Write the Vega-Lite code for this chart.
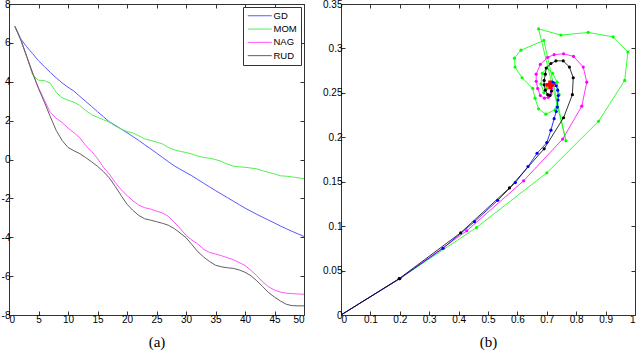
{
  "$schema": "https://vega.github.io/schema/vega-lite/v6.json",
  "padding": {"left": 0, "top": -2, "right": 0, "bottom": 0},
  "bounds": "flush",
  "spacing": 37,
  "config": {
    "font": "Liberation Sans",
    "view": {"stroke": "#333", "strokeWidth": 1},
    "axis": {"domain": false, "grid": false, "tickSize": -4, "tickColor": "#333", "labelFont": "Liberation Sans", "labelFontSize": 10, "labelColor": "#000", "labelPadding": 3, "titleFont": "Liberation Serif", "titleFontSize": 15, "titleFontWeight": "normal", "titleColor": "#000", "titlePadding": 10}
  },
  "resolve": {"scale": {"color": "independent"}},
  "datasets": {
    "curves": [
      {"method":"GD","iter":1,"value":6.85},{"method":"GD","iter":2,"value":6.2},{"method":"GD","iter":3,"value":5.8},{"method":"GD","iter":4,"value":5.45},{"method":"GD","iter":5,"value":5.08},{"method":"GD","iter":6,"value":4.78},{"method":"GD","iter":7,"value":4.48},{"method":"GD","iter":8,"value":4.2},{"method":"GD","iter":9,"value":3.94},{"method":"GD","iter":10,"value":3.72},
      {"method":"GD","iter":11,"value":3.52},{"method":"GD","iter":12,"value":3.25},{"method":"GD","iter":13,"value":2.99},{"method":"GD","iter":14,"value":2.73},{"method":"GD","iter":15,"value":2.46},{"method":"GD","iter":16,"value":2.2},{"method":"GD","iter":17,"value":1.94},{"method":"GD","iter":18,"value":1.76},{"method":"GD","iter":19,"value":1.57},{"method":"GD","iter":20,"value":1.38},
      {"method":"GD","iter":21,"value":1.18},{"method":"GD","iter":22,"value":0.98},{"method":"GD","iter":23,"value":0.76},{"method":"GD","iter":24,"value":0.55},{"method":"GD","iter":25,"value":0.33},{"method":"GD","iter":26,"value":0.11},{"method":"GD","iter":27,"value":-0.11},{"method":"GD","iter":28,"value":-0.32},{"method":"GD","iter":29,"value":-0.5},{"method":"GD","iter":30,"value":-0.67},
      {"method":"GD","iter":31,"value":-0.84},{"method":"GD","iter":32,"value":-1.03},{"method":"GD","iter":33,"value":-1.22},{"method":"GD","iter":34,"value":-1.41},{"method":"GD","iter":35,"value":-1.6},{"method":"GD","iter":36,"value":-1.78},{"method":"GD","iter":37,"value":-1.96},{"method":"GD","iter":38,"value":-2.14},{"method":"GD","iter":39,"value":-2.32},{"method":"GD","iter":40,"value":-2.5},
      {"method":"GD","iter":41,"value":-2.66},{"method":"GD","iter":42,"value":-2.82},{"method":"GD","iter":43,"value":-2.97},{"method":"GD","iter":44,"value":-3.12},{"method":"GD","iter":45,"value":-3.27},{"method":"GD","iter":46,"value":-3.42},{"method":"GD","iter":47,"value":-3.56},{"method":"GD","iter":48,"value":-3.7},{"method":"GD","iter":49,"value":-3.83},{"method":"GD","iter":50,"value":-3.96},
      {"method":"MOM","iter":1,"value":6.85},{"method":"MOM","iter":2,"value":6.2},{"method":"MOM","iter":3,"value":5.3},{"method":"MOM","iter":4,"value":4.35},{"method":"MOM","iter":5,"value":4.08},{"method":"MOM","iter":6,"value":4.06},{"method":"MOM","iter":7,"value":3.92},{"method":"MOM","iter":8,"value":3.45},{"method":"MOM","iter":9,"value":3.17},{"method":"MOM","iter":10,"value":3.05},
      {"method":"MOM","iter":11,"value":2.95},{"method":"MOM","iter":12,"value":2.78},{"method":"MOM","iter":13,"value":2.52},{"method":"MOM","iter":14,"value":2.3},{"method":"MOM","iter":15,"value":2.17},{"method":"MOM","iter":16,"value":2.05},{"method":"MOM","iter":17,"value":1.92},{"method":"MOM","iter":18,"value":1.72},{"method":"MOM","iter":19,"value":1.57},{"method":"MOM","iter":20,"value":1.44},
      {"method":"MOM","iter":21,"value":1.36},{"method":"MOM","iter":22,"value":1.22},{"method":"MOM","iter":23,"value":1.06},{"method":"MOM","iter":24,"value":0.98},{"method":"MOM","iter":25,"value":0.9},{"method":"MOM","iter":26,"value":0.8},{"method":"MOM","iter":27,"value":0.62},{"method":"MOM","iter":28,"value":0.5},{"method":"MOM","iter":29,"value":0.42},{"method":"MOM","iter":30,"value":0.36},
      {"method":"MOM","iter":31,"value":0.28},{"method":"MOM","iter":32,"value":0.18},{"method":"MOM","iter":33,"value":0.11},{"method":"MOM","iter":34,"value":0.06},{"method":"MOM","iter":35,"value":0.0},{"method":"MOM","iter":36,"value":-0.1},{"method":"MOM","iter":37,"value":-0.24},{"method":"MOM","iter":38,"value":-0.34},{"method":"MOM","iter":39,"value":-0.38},{"method":"MOM","iter":40,"value":-0.4},
      {"method":"MOM","iter":41,"value":-0.44},{"method":"MOM","iter":42,"value":-0.48},{"method":"MOM","iter":43,"value":-0.58},{"method":"MOM","iter":44,"value":-0.66},{"method":"MOM","iter":45,"value":-0.74},{"method":"MOM","iter":46,"value":-0.84},{"method":"MOM","iter":47,"value":-0.86},{"method":"MOM","iter":48,"value":-0.9},{"method":"MOM","iter":49,"value":-0.94},{"method":"MOM","iter":50,"value":-0.99},
      {"method":"NAG","iter":1,"value":6.85},{"method":"NAG","iter":2,"value":6.15},{"method":"NAG","iter":3,"value":5.3},{"method":"NAG","iter":4,"value":4.45},{"method":"NAG","iter":5,"value":3.7},{"method":"NAG","iter":6,"value":3.05},{"method":"NAG","iter":7,"value":2.42},{"method":"NAG","iter":8,"value":2.12},{"method":"NAG","iter":9,"value":1.9},{"method":"NAG","iter":10,"value":1.62},
      {"method":"NAG","iter":11,"value":1.38},{"method":"NAG","iter":12,"value":1.12},{"method":"NAG","iter":13,"value":0.72},{"method":"NAG","iter":14,"value":0.42},{"method":"NAG","iter":15,"value":0.05},{"method":"NAG","iter":16,"value":-0.4},{"method":"NAG","iter":17,"value":-0.75},{"method":"NAG","iter":18,"value":-1.18},{"method":"NAG","iter":19,"value":-1.55},{"method":"NAG","iter":20,"value":-1.85},
      {"method":"NAG","iter":21,"value":-2.12},{"method":"NAG","iter":22,"value":-2.35},{"method":"NAG","iter":23,"value":-2.48},{"method":"NAG","iter":24,"value":-2.55},{"method":"NAG","iter":25,"value":-2.65},{"method":"NAG","iter":26,"value":-2.75},{"method":"NAG","iter":27,"value":-2.92},{"method":"NAG","iter":28,"value":-3.22},{"method":"NAG","iter":29,"value":-3.55},{"method":"NAG","iter":30,"value":-3.9},
      {"method":"NAG","iter":31,"value":-4.15},{"method":"NAG","iter":32,"value":-4.35},{"method":"NAG","iter":33,"value":-4.62},{"method":"NAG","iter":34,"value":-4.78},{"method":"NAG","iter":35,"value":-4.86},{"method":"NAG","iter":36,"value":-4.95},{"method":"NAG","iter":37,"value":-5.05},{"method":"NAG","iter":38,"value":-5.15},{"method":"NAG","iter":39,"value":-5.3},{"method":"NAG","iter":40,"value":-5.45},
      {"method":"NAG","iter":41,"value":-5.7},{"method":"NAG","iter":42,"value":-5.98},{"method":"NAG","iter":43,"value":-6.3},{"method":"NAG","iter":44,"value":-6.55},{"method":"NAG","iter":45,"value":-6.72},{"method":"NAG","iter":46,"value":-6.82},{"method":"NAG","iter":47,"value":-6.88},{"method":"NAG","iter":48,"value":-6.9},{"method":"NAG","iter":49,"value":-6.92},{"method":"NAG","iter":50,"value":-6.93},
      {"method":"RUD","iter":1,"value":6.85},{"method":"RUD","iter":2,"value":6.15},{"method":"RUD","iter":3,"value":5.3},{"method":"RUD","iter":4,"value":4.45},{"method":"RUD","iter":5,"value":3.65},{"method":"RUD","iter":6,"value":2.95},{"method":"RUD","iter":7,"value":2.2},{"method":"RUD","iter":8,"value":1.5},{"method":"RUD","iter":9,"value":0.98},{"method":"RUD","iter":10,"value":0.62},
      {"method":"RUD","iter":11,"value":0.45},{"method":"RUD","iter":12,"value":0.3},{"method":"RUD","iter":13,"value":0.1},{"method":"RUD","iter":14,"value":-0.12},{"method":"RUD","iter":15,"value":-0.35},{"method":"RUD","iter":16,"value":-0.62},{"method":"RUD","iter":17,"value":-0.95},{"method":"RUD","iter":18,"value":-1.38},{"method":"RUD","iter":19,"value":-1.85},{"method":"RUD","iter":20,"value":-2.3},
      {"method":"RUD","iter":21,"value":-2.62},{"method":"RUD","iter":22,"value":-2.88},{"method":"RUD","iter":23,"value":-3.05},{"method":"RUD","iter":24,"value":-3.12},{"method":"RUD","iter":25,"value":-3.2},{"method":"RUD","iter":26,"value":-3.28},{"method":"RUD","iter":27,"value":-3.38},{"method":"RUD","iter":28,"value":-3.55},{"method":"RUD","iter":29,"value":-3.78},{"method":"RUD","iter":30,"value":-4.02},
      {"method":"RUD","iter":31,"value":-4.38},{"method":"RUD","iter":32,"value":-4.74},{"method":"RUD","iter":33,"value":-5.02},{"method":"RUD","iter":34,"value":-5.25},{"method":"RUD","iter":35,"value":-5.44},{"method":"RUD","iter":36,"value":-5.52},{"method":"RUD","iter":37,"value":-5.57},{"method":"RUD","iter":38,"value":-5.6},{"method":"RUD","iter":39,"value":-5.68},{"method":"RUD","iter":40,"value":-5.8},
      {"method":"RUD","iter":41,"value":-5.98},{"method":"RUD","iter":42,"value":-6.24},{"method":"RUD","iter":43,"value":-6.54},{"method":"RUD","iter":44,"value":-6.85},{"method":"RUD","iter":45,"value":-7.08},{"method":"RUD","iter":46,"value":-7.28},{"method":"RUD","iter":47,"value":-7.45},{"method":"RUD","iter":48,"value":-7.52},{"method":"RUD","iter":49,"value":-7.53},{"method":"RUD","iter":50,"value":-7.53}
    ],
    "paths": [
      {"method":"MOM","step":0,"x":0,"y":0},{"method":"MOM","step":1,"x":0.2,"y":0.041},{"method":"MOM","step":2,"x":0.461,"y":0.0985},{"method":"MOM","step":3,"x":0.7,"y":0.16},{"method":"MOM","step":4,"x":0.876,"y":0.218},{"method":"MOM","step":5,"x":0.965,"y":0.264},{"method":"MOM","step":6,"x":0.976,"y":0.296},{"method":"MOM","step":7,"x":0.926,"y":0.313},{"method":"MOM","step":8,"x":0.841,"y":0.318},{"method":"MOM","step":9,"x":0.748,"y":0.315},
      {"method":"MOM","step":10,"x":0.672,"y":0.322},{"method":"MOM","step":11,"x":0.765,"y":0.196},{"method":"MOM","step":12,"x":0.69,"y":0.309},{"method":"MOM","step":13,"x":0.612,"y":0.298},{"method":"MOM","step":14,"x":0.59,"y":0.289},{"method":"MOM","step":15,"x":0.592,"y":0.279},{"method":"MOM","step":16,"x":0.616,"y":0.267},{"method":"MOM","step":17,"x":0.652,"y":0.255},{"method":"MOM","step":18,"x":0.66,"y":0.244},{"method":"MOM","step":19,"x":0.672,"y":0.232},
      {"method":"MOM","step":20,"x":0.697,"y":0.226},{"method":"MOM","step":21,"x":0.728,"y":0.231},{"method":"MOM","step":22,"x":0.742,"y":0.248},{"method":"MOM","step":23,"x":0.735,"y":0.262},{"method":"MOM","step":24,"x":0.72,"y":0.272},{"method":"MOM","step":25,"x":0.7,"y":0.278},{"method":"MOM","step":26,"x":0.685,"y":0.272},{"method":"MOM","step":27,"x":0.68,"y":0.26},{"method":"MOM","step":28,"x":0.69,"y":0.25},{"method":"MOM","step":29,"x":0.7,"y":0.255},
      {"method":"NAG","step":0,"x":0,"y":0},{"method":"NAG","step":1,"x":0.2,"y":0.041},{"method":"NAG","step":2,"x":0.428,"y":0.0948},{"method":"NAG","step":3,"x":0.621,"y":0.151},{"method":"NAG","step":4,"x":0.754,"y":0.198},{"method":"NAG","step":5,"x":0.819,"y":0.235},{"method":"NAG","step":6,"x":0.836,"y":0.262},{"method":"NAG","step":7,"x":0.824,"y":0.279},{"method":"NAG","step":8,"x":0.791,"y":0.291},{"method":"NAG","step":9,"x":0.757,"y":0.294},
      {"method":"NAG","step":10,"x":0.725,"y":0.293},{"method":"NAG","step":11,"x":0.703,"y":0.29},{"method":"NAG","step":12,"x":0.678,"y":0.282},{"method":"NAG","step":13,"x":0.664,"y":0.271},{"method":"NAG","step":14,"x":0.664,"y":0.263},{"method":"NAG","step":15,"x":0.669,"y":0.255},{"method":"NAG","step":16,"x":0.678,"y":0.247},{"method":"NAG","step":17,"x":0.692,"y":0.244},{"method":"NAG","step":18,"x":0.705,"y":0.245},{"method":"NAG","step":19,"x":0.714,"y":0.249},{"method":"NAG","step":20,"x":0.716,"y":0.255},{"method":"NAG","step":21,"x":0.712,"y":0.259},
      {"method":"GD","step":0,"x":0,"y":0},{"method":"GD","step":1,"x":0.2,"y":0.041},{"method":"GD","step":2,"x":0.347,"y":0.075},{"method":"GD","step":3,"x":0.454,"y":0.105},{"method":"GD","step":4,"x":0.533,"y":0.129},{"method":"GD","step":5,"x":0.593,"y":0.149},{"method":"GD","step":6,"x":0.636,"y":0.167},{"method":"GD","step":7,"x":0.667,"y":0.182},{"method":"GD","step":8,"x":0.7,"y":0.194},{"method":"GD","step":9,"x":0.714,"y":0.208},
      {"method":"GD","step":10,"x":0.725,"y":0.221},{"method":"GD","step":11,"x":0.732,"y":0.229},{"method":"GD","step":12,"x":0.736,"y":0.234},{"method":"GD","step":13,"x":0.738,"y":0.242},{"method":"GD","step":14,"x":0.739,"y":0.247},{"method":"GD","step":15,"x":0.737,"y":0.253},{"method":"GD","step":16,"x":0.732,"y":0.258},{"method":"GD","step":17,"x":0.725,"y":0.261},{"method":"GD","step":18,"x":0.719,"y":0.262},
      {"method":"RUD","step":0,"x":0,"y":0},{"method":"RUD","step":1,"x":0.198,"y":0.041},{"method":"RUD","step":2,"x":0.407,"y":0.0925},{"method":"RUD","step":3,"x":0.573,"y":0.143},{"method":"RUD","step":4,"x":0.691,"y":0.187},{"method":"RUD","step":5,"x":0.757,"y":0.222},{"method":"RUD","step":6,"x":0.787,"y":0.248},{"method":"RUD","step":7,"x":0.79,"y":0.267},{"method":"RUD","step":8,"x":0.777,"y":0.279},{"method":"RUD","step":9,"x":0.756,"y":0.286},
      {"method":"RUD","step":10,"x":0.731,"y":0.286},{"method":"RUD","step":11,"x":0.714,"y":0.283},{"method":"RUD","step":12,"x":0.698,"y":0.278},{"method":"RUD","step":13,"x":0.695,"y":0.271},{"method":"RUD","step":14,"x":0.691,"y":0.264},{"method":"RUD","step":15,"x":0.691,"y":0.259},{"method":"RUD","step":16,"x":0.695,"y":0.253},{"method":"RUD","step":17,"x":0.703,"y":0.248},{"method":"RUD","step":18,"x":0.711,"y":0.247},{"method":"RUD","step":19,"x":0.716,"y":0.252},{"method":"RUD","step":20,"x":0.716,"y":0.258},{"method":"RUD","step":21,"x":0.712,"y":0.26}
    ],
    "optimum": [{"x":0.711,"y":0.259}]
  },
  "hconcat": [
    {
      "width": 295,
      "height": 311,
      "data": {"name": "curves"},
      "layer": [
        {
          "mark": {"type": "line", "strokeWidth": 1},
          "encoding": {
            "x": {"field": "iter", "type": "quantitative", "scale": {"domain": [0, 50], "nice": false}, "axis": {"values": [0,5,10,15,20,25,30,35,40,45,50], "title": "(a)", "labelExpr": "'' + datum.value"}},
            "y": {"field": "value", "type": "quantitative", "scale": {"domain": [-8, 8], "nice": false}, "axis": {"values": [-8,-6,-4,-2,0,2,4,6,8], "title": null, "labelExpr": "'' + datum.value"}},
            "color": {"field": "method", "type": "nominal",
              "scale": {"domain": ["GD","MOM","NAG","RUD"], "range": ["#5858ff","#55ee55","#ff55ff","#606060"]},
              "legend": {"orient": "top-right", "offset": 3, "title": null, "symbolType": "M-3,0L3,0", "symbolSize": 64, "symbolOffset": 8, "symbolStrokeWidth": 1, "labelFontSize": 9.5, "labelFont": "Liberation Sans", "labelColor": "#000", "strokeColor": "#333", "fillColor": "white", "padding": 4, "rowPadding": 2.3, "labelOffset": 9}}
          }
        },
        {
          "mark": {"type": "line", "opacity": 0},
          "encoding": {
            "x": {"field": "iter", "type": "quantitative", "axis": {"orient": "top", "labels": false, "values": [0,5,10,15,20,25,30,35,40,45,50], "title": null}},
            "y": {"field": "value", "type": "quantitative", "axis": {"orient": "right", "labels": false, "values": [-8,-6,-4,-2,0,2,4,6,8], "title": null}},
            "detail": {"field": "method"}
          }
        }
      ],
      "resolve": {"axis": {"x": "independent", "y": "independent"}}
    },
    {
      "width": 294,
      "height": 311,
      "layer": [
        {
          "data": {"name": "paths"},
          "mark": {"type": "line", "strokeWidth": 0.8},
          "encoding": {
            "x": {"field": "x", "type": "quantitative", "scale": {"domain": [0, 1], "nice": false}, "axis": {"values": [0,0.1,0.2,0.3,0.4,0.5,0.6,0.7,0.8,0.9,1], "title": "(b)", "labelExpr": "'' + datum.value"}},
            "y": {"field": "y", "type": "quantitative", "scale": {"domain": [0, 0.35], "nice": false}, "axis": {"values": [0,0.05,0.1,0.15,0.2,0.25,0.3,0.35], "title": null, "labelExpr": "'' + datum.value"}},
            "color": {"field": "method", "type": "nominal", "scale": {"domain": ["GD","MOM","NAG","RUD"], "range": ["#0000ff","#00ff00","#ff00ff","#000000"]}, "legend": null},
            "order": {"field": "step"}
          }
        },
        {
          "data": {"name": "paths"},
          "transform": [{"filter": "datum.step > 0"}],
          "mark": {"type": "point", "filled": true, "size": 10, "opacity": 1},
          "encoding": {
            "x": {"field": "x", "type": "quantitative", "axis": null},
            "y": {"field": "y", "type": "quantitative", "axis": null},
            "color": {"field": "method", "type": "nominal", "legend": null}
          }
        },
        {
          "data": {"name": "optimum"},
          "mark": {"type": "point", "shape": "cross", "filled": true, "color": "#ff0000", "size": 80, "opacity": 1},
          "encoding": {
            "x": {"field": "x", "type": "quantitative", "axis": null},
            "y": {"field": "y", "type": "quantitative", "axis": null}
          }
        },
        {
          "data": {"name": "optimum"},
          "mark": {"type": "point", "opacity": 0},
          "encoding": {
            "x": {"field": "x", "type": "quantitative", "axis": {"orient": "top", "labels": false, "values": [0,0.1,0.2,0.3,0.4,0.5,0.6,0.7,0.8,0.9,1], "title": null}},
            "y": {"field": "y", "type": "quantitative", "axis": {"orient": "right", "labels": false, "values": [0,0.05,0.1,0.15,0.2,0.25,0.3,0.35], "title": null}}
          }
        }
      ],
      "resolve": {"axis": {"x": "independent", "y": "independent"}}
    }
  ]
}
